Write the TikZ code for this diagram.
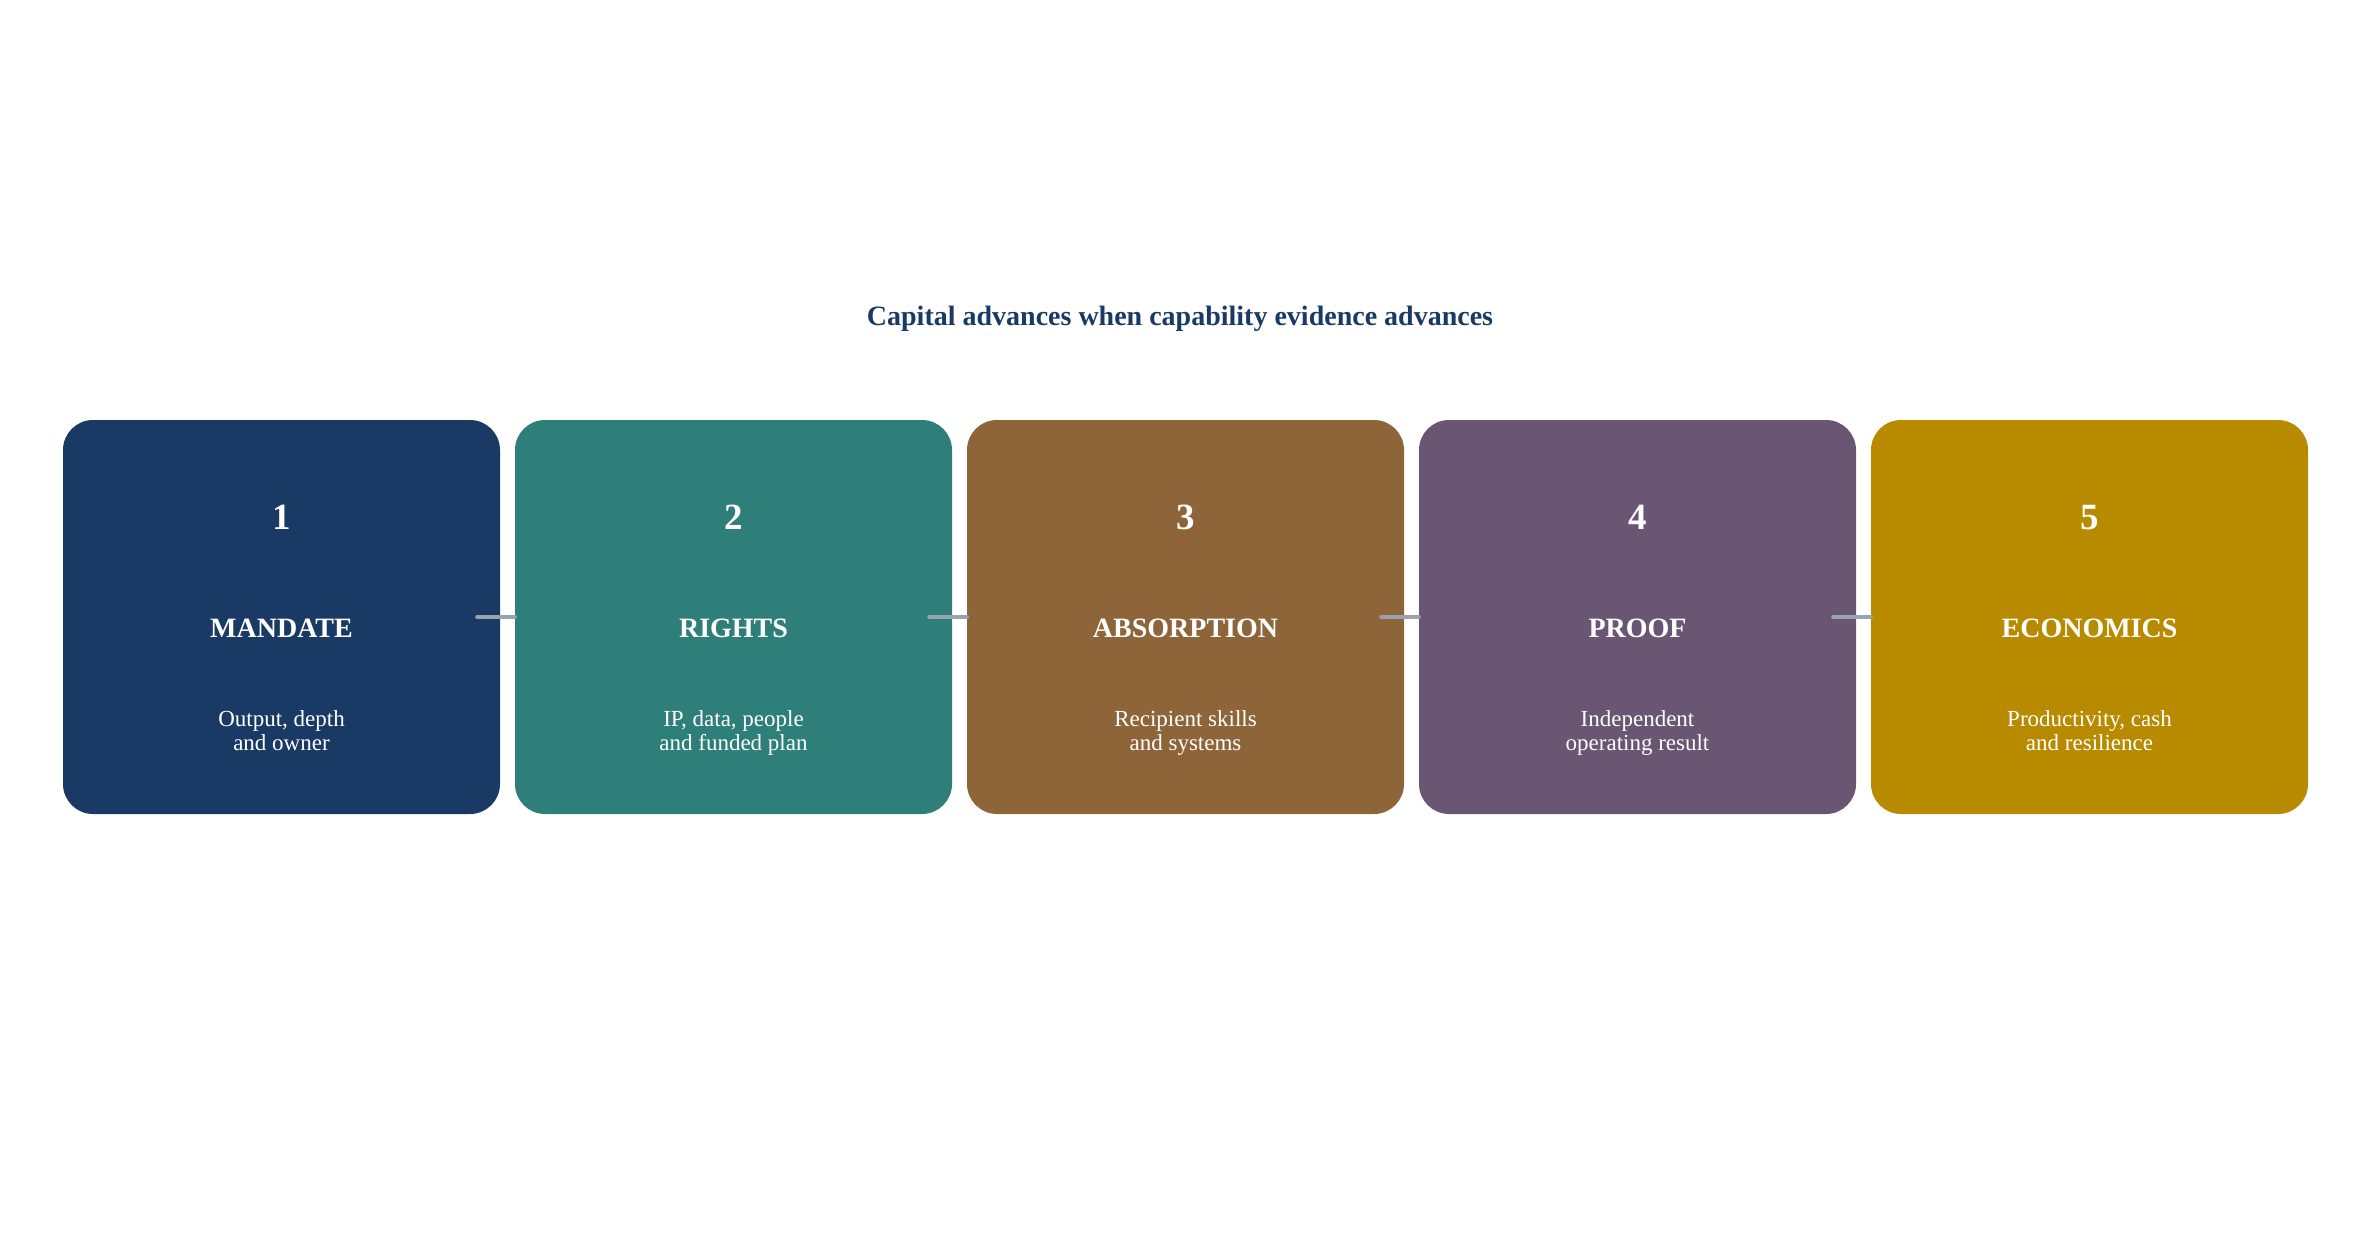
\documentclass[tikz,border=0pt]{standalone}
\usepackage{fontspec}
\setmainfont{Liberation Serif}
\definecolor{cnavy}{HTML}{1A3A66}
\definecolor{cteal}{HTML}{2E7E7A}
\definecolor{cbrown}{HTML}{8E6439}
\definecolor{cpurple}{HTML}{6A5673}
\definecolor{cgold}{HTML}{B78A00}
\definecolor{cline}{HTML}{9AA3AD}
\tikzset{
  stage/.style={draw=none, rounded corners=30pt, minimum width=437pt, minimum height=394pt, inner sep=0pt},
  numtxt/.style={text=white, anchor=base, inner sep=0pt, font=\fontsize{37}{44}\selectfont\bfseries},
  headtxt/.style={text=white, anchor=base, inner sep=0pt, font=\fontsize{28}{33}\selectfont\bfseries},
  desctxt/.style={text=white, anchor=base, inner sep=0pt, align=center, font=\fontsize{23}{24}\selectfont},
  conn/.style={draw=cline, line width=4pt, line cap=round},
}
\begin{document}
\begin{tikzpicture}[x=1pt,y=-1pt]
\useasboundingbox (0,0) rectangle (2360,1260);
\node[anchor=base, text=cnavy, font=\fontsize{28}{33}\selectfont\bfseries] (title) at (1180,325) {Capital advances when capability evidence advances};
\node[stage, fill=cnavy]   (b1) at (281.5,617) {};
\node[stage, fill=cteal]   (b2) at (733.5,617) {};
\node[stage, fill=cbrown]  (b3) at (1185.5,617) {};
\node[stage, fill=cpurple] (b4) at (1637.5,617) {};
\node[stage, fill=cgold]   (b5) at (2089.5,617) {};
\foreach \i/\n/\h/\d in {1/1/MANDATE/{Output, depth\\and owner},
                        2/2/RIGHTS/{IP, data, people\\and funded plan},
                        3/3/ABSORPTION/{Recipient skills\\and systems},
                        4/4/PROOF/{Independent\\operating result},
                        5/5/ECONOMICS/{Productivity, cash\\and resilience}}{
  \node[numtxt] (n\i) at ([yshift=88pt]b\i.center) {\n};
  \node[headtxt] (h\i) at ([yshift=-20pt]b\i.center) {\h};
  \node[desctxt] (d\i) at ([yshift=-133pt]b\i.center) {\d};
}
\foreach \a/\b in {1/2,2/3,3/4,4/5}{
  \draw[conn] ([xshift=-23pt]b\a.east) -- (b\b.west);
}
\end{tikzpicture}
\end{document}
